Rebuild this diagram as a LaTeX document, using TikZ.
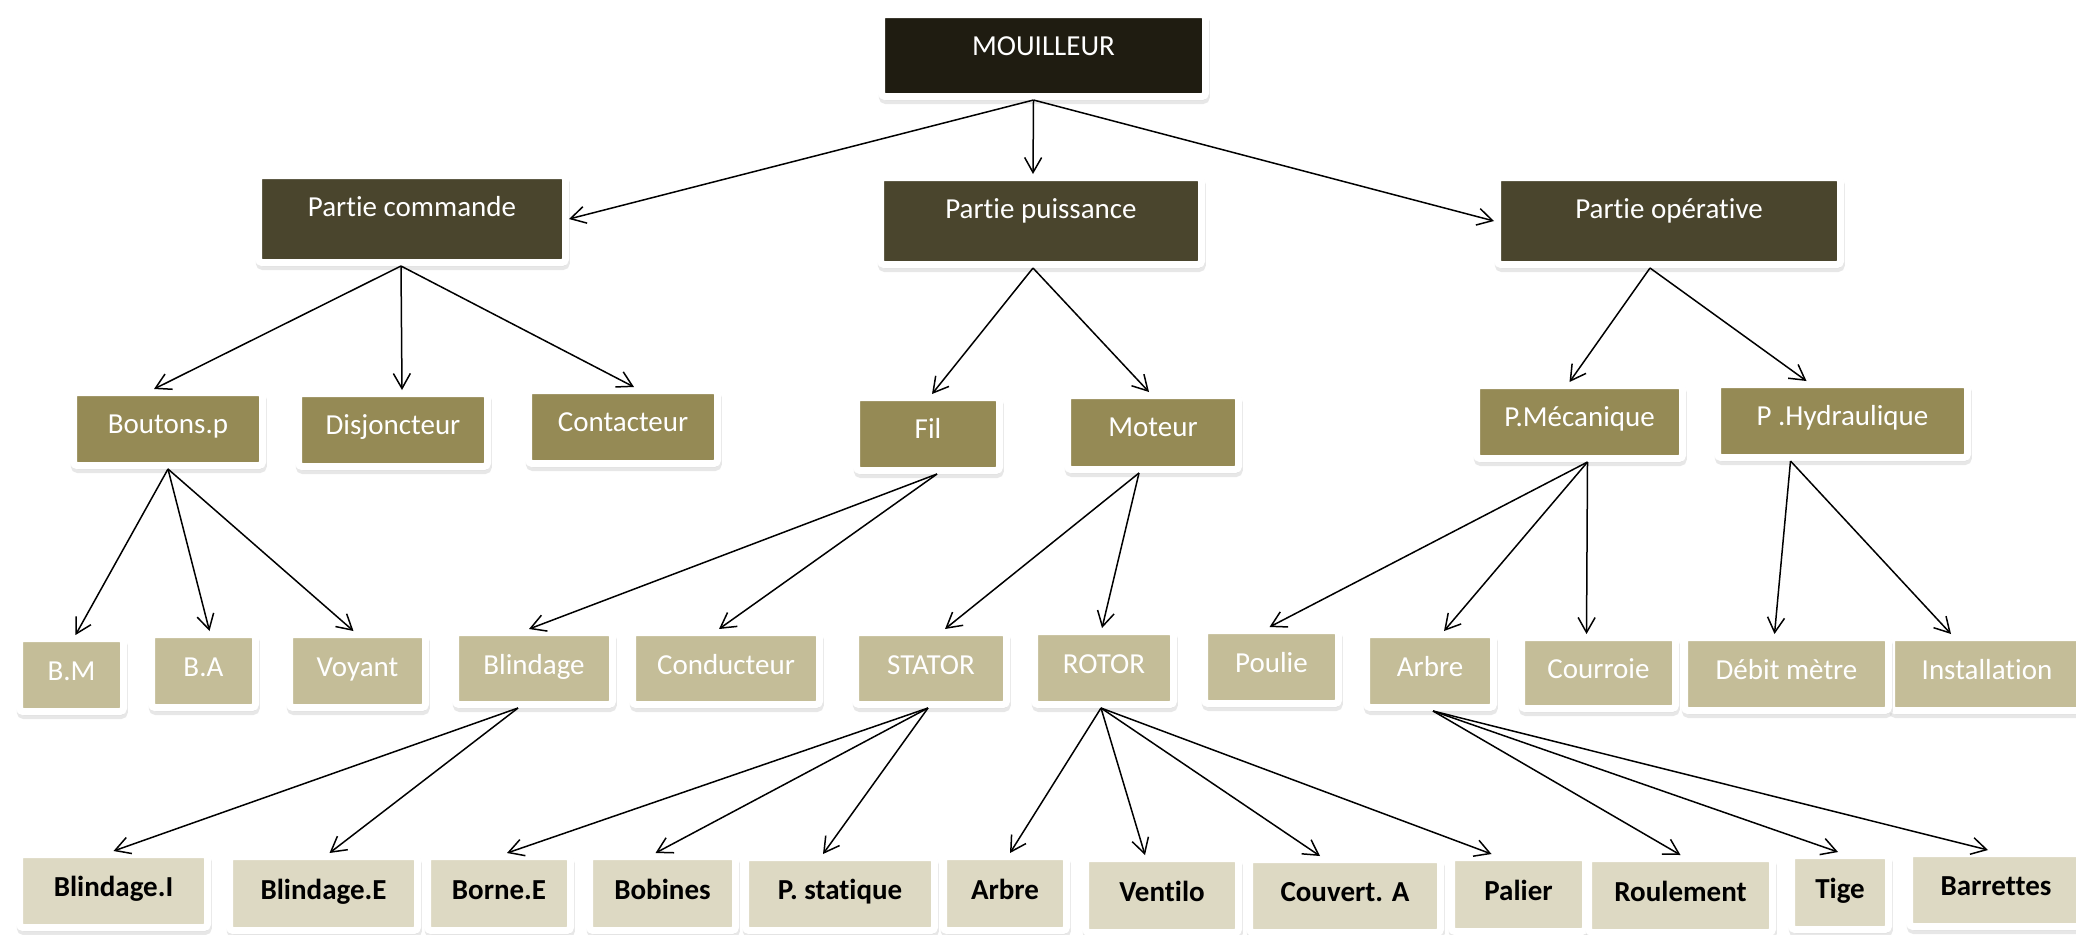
\documentclass[tikz,border=0pt]{standalone}
\usepackage{fontspec}
\setmainfont{Carlito}[Ligatures=NoCommon]
\usetikzlibrary{arrows.meta,shadows}

\definecolor{cA}{HTML}{1F1C11}
\definecolor{cB}{HTML}{4A452D}
\definecolor{cC}{HTML}{958A55}
\definecolor{cD}{HTML}{C4BD98}
\definecolor{cE}{HTML}{DDD9C3}

\tikzset{
  card/.style={rectangle, inner sep=0pt, line width=3.5pt, draw=white,
    rounded corners=1.75pt, text height=10pt,
    font=\fontsize{14.5}{17}\selectfont,
    drop shadow={shadow xshift=0.4pt, shadow yshift=-2pt,
      fill=black!18, draw=black!18, line width=3.5pt, rounded corners=1.75pt}},
  sz/.style 2 args={minimum width={(#1+7)*0.5pt}, minimum height={(#2+7)*0.5pt}},
  lvA/.style={card, fill=cA, text=white, text depth=10.3pt},
  lvB/.style={card, fill=cB, text=white, text depth=12.8pt},
  lvC/.style={card, fill=cC, text=white, text depth=5.8pt},
  lvD/.style={card, fill=cD, text=white, text depth=4.2pt},
  lvE/.style={card, fill=cE, text=black, text depth=4.3pt,
    font=\fontsize{14.5}{17}\selectfont\bfseries},
  arr/.style={draw=black, line width=0.75pt,
    -{Straight Barb[length=7.5pt,width=8.5pt,line width=0.75pt]}}
}

\begin{document}
\begin{tikzpicture}[x=0.5pt,y=-0.5pt]
\useasboundingbox (0,0) rectangle (2076,934);
\fill[white] (0,0) rectangle (2076,934);

% top level
\node[lvA, sz={317}{75}] (mo) at (1043.5,55.5) {MOUILLEUR};

% three main parts
\node[lvB, sz={300}{80}] (pc) at (412,219) {Partie commande};
\node[lvB, sz={314}{80}] (pp) at (1041,221) {Partie puissance};
\node[lvB, sz={336}{80}] (po) at (1669,221) {Partie opérative};

% sub-parts
\node[lvC, sz={182}{66}] (bp)  at (168,429)    {Boutons.p};
\node[lvC, sz={182}{66}] (dj)  at (393,430)    {Disjoncteur};
\node[lvC, sz={182}{66}] (ct)  at (623,427)    {Contacteur};
\node[lvC, sz={136}{66}] (fil) at (928,434)    {Fil};
\node[lvC, sz={164}{67}] (mot) at (1153,432.5) {Moteur};
\node[lvC, sz={199}{66}] (pm)  at (1579.5,422) {P.Mécanique};
\node[lvC, sz={243}{66}] (ph)  at (1842.5,421) {P .Hydraulique};

% components
\node[lvD, sz={97}{66}]  (bm)   at (71.5,675)   {B.M};
\node[lvD, sz={97}{66}]  (ba)   at (203.5,671)  {B.A};
\node[lvD, sz={129}{66}] (voy)  at (357.5,671)  {Voyant};
\node[lvD, sz={150}{65}] (bl)   at (534,668.5)  {Blindage};
\node[lvD, sz={180}{65}] (cond) at (726,668.5)  {Conducteur};
\node[lvD, sz={144}{65}] (sta)  at (931,668.5)  {STATOR};
\node[lvD, sz={132}{66}] (rot)  at (1104,668)   {ROTOR};
\node[lvD, sz={127}{66}] (pou)  at (1271.5,667) {Poulie};
\node[lvD, sz={120}{66}] (arb)  at (1430,671)   {Arbre};
\node[lvD, sz={147}{64}] (cou)  at (1598.5,673) {Courroie};
\node[lvD, sz={184}{66}] (ins)  at (1987,674)   {Installation};
\node[lvD, sz={197}{66}] (deb)  at (1786.5,674) {Débit mètre};

% elementary parts
\node[lvE, sz={181}{66}] (bli) at (113.5,891)  {Blindage.I};
\node[lvE, sz={181}{67}] (ble) at (323.5,893.5) {Blindage.E};
\node[lvE, sz={136}{67}] (bor) at (499,893.5)  {Borne.E};
\node[lvE, sz={139}{67}] (bob) at (662.5,893.5) {Bobines};
\node[lvE, sz={182}{66}] (pst) at (840,894)    {P. statique};
\node[lvE, sz={116}{67}] (ar5) at (1005,893.5) {Arbre};
\node[lvE, sz={146}{67}] (ven) at (1162,895.5) {Ventilo};
\node[lvE, sz={184}{66}] (cov) at (1345,896)   {Couvert. A};
\node[lvE, sz={127}{67}] (pal) at (1518.5,894.5) {Palier};
\node[lvE, sz={177}{67}] (rou) at (1680.5,895.5) {Roulement};
\node[lvE, sz={90}{67}]  (tig) at (1840,892.5) {Tige};
\node[lvE, sz={166}{66}] (bar) at (1996,890)   {Barrettes};

% connectors
\draw[arr] ([xshift=-5pt]mo.south) -- (pc.east);
\draw[arr] ([xshift=-5pt]mo.south) -- ([xshift=-4pt]pp.north);
\draw[arr] ([xshift=-5pt]mo.south) -- (po.west);

\draw[arr] ([xshift=-5.5pt]pc.south) -- ([xshift=-7pt]bp.north);
\draw[arr] ([xshift=-5.5pt]pc.south) -- ([xshift=4.5pt]dj.north);
\draw[arr] ([xshift=-5.5pt]pc.south) -- ([xshift=5.5pt]ct.north);

\draw[arr] ([xshift=-4pt]pp.south) -- ([xshift=2pt]fil.north);
\draw[arr] ([xshift=-4pt]pp.south) -- ([xshift=-2pt]mot.north);

\draw[arr] ([xshift=-9.5pt]po.south) -- ([xshift=-5pt]pm.north);
\draw[arr] ([xshift=-9.5pt]po.south) -- ([xshift=-18pt]ph.north);

\draw[arr] (bp.south) -- ([xshift=2pt]bm.north);
\draw[arr] (bp.south) -- ([xshift=3pt]ba.north);
\draw[arr] (bp.south) -- ([xshift=-2pt]voy.north);

\draw[arr] ([xshift=4.5pt]fil.south) -- ([xshift=-2.5pt]bl.north);
\draw[arr] ([xshift=4.5pt]fil.south) -- ([xshift=-3.5pt]cond.north);

\draw[arr] ([xshift=-7pt]mot.south) -- ([xshift=7pt]sta.north);
\draw[arr] ([xshift=-7pt]mot.south) -- ([xshift=-1pt]rot.north);

\draw[arr] ([xshift=4pt]pm.south) -- ([xshift=-1pt]pou.north);
\draw[arr] ([xshift=4pt]pm.south) -- ([xshift=7pt]arb.north);
\draw[arr] ([xshift=4pt]pm.south) -- ([xshift=-6pt]cou.north);

\draw[arr] ([xshift=-26pt]ph.south) -- ([xshift=-6pt]deb.north);
\draw[arr] ([xshift=-26pt]ph.south) -- ([xshift=-18pt]ins.north);

\draw[arr] ([xshift=-8pt]bl.south) -- (bli.north);
\draw[arr] ([xshift=-8pt]bl.south) -- ([xshift=3pt]ble.north);

\draw[arr] ([xshift=-1.5pt]sta.south) -- ([xshift=4pt]bor.north);
\draw[arr] ([xshift=-1.5pt]sta.south) -- ([xshift=-3.5pt]bob.north);
\draw[arr] ([xshift=-1.5pt]sta.south) -- ([xshift=-8.5pt]pst.north);

\draw[arr] ([xshift=-1.5pt]rot.south) -- ([xshift=2.5pt]ar5.north);
\draw[arr] ([xshift=-1.5pt]rot.south) -- ([xshift=-8.5pt]ven.north);
\draw[arr] ([xshift=-1.5pt]rot.south) -- ([xshift=-12.5pt]cov.north);
\draw[arr] ([xshift=-1.5pt]rot.south) -- ([xshift=-13.5pt]pal.north);

\draw[arr] ([xshift=1.5pt]arb.south) -- (rou.north);
\draw[arr] ([xshift=1.5pt]arb.south) -- ([xshift=-1pt]tig.north);
\draw[arr] ([xshift=1.5pt]arb.south) -- ([xshift=-4pt]bar.north);
\end{tikzpicture}
\end{document}
